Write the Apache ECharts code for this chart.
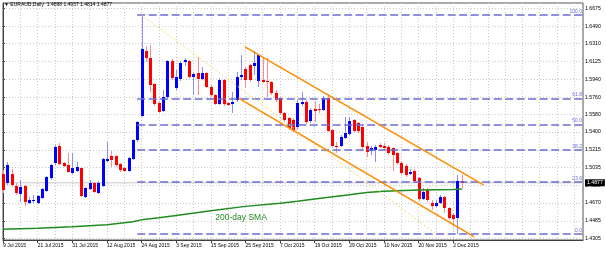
<!DOCTYPE html>
<html><head><meta charset="utf-8">
<script src="https://cdn.jsdelivr.net/npm/echarts@6/dist/echarts.min.js"></script>
<style>html,body{margin:0;padding:0;background:#fff}#c{width:606px;height:255px}</style>
</head><body><div id="c"></div>
<script>
// ---------------- data ----------------
const titleText = 'EURAUD,Daily  1.4898 1.4957 1.4814 1.4877';
const dates = [
 '9 Jul 2015','10 Jul 2015','13 Jul 2015','14 Jul 2015','15 Jul 2015','16 Jul 2015','17 Jul 2015','20 Jul 2015','21 Jul 2015','22 Jul 2015',
 '23 Jul 2015','24 Jul 2015','27 Jul 2015','28 Jul 2015','29 Jul 2015','30 Jul 2015','31 Jul 2015',
 '3 Aug 2015','4 Aug 2015','5 Aug 2015','6 Aug 2015','7 Aug 2015','10 Aug 2015','11 Aug 2015','12 Aug 2015','13 Aug 2015','14 Aug 2015',
 '17 Aug 2015','18 Aug 2015','19 Aug 2015','20 Aug 2015','21 Aug 2015','24 Aug 2015','25 Aug 2015','26 Aug 2015','27 Aug 2015','28 Aug 2015','31 Aug 2015',
 '1 Sep 2015','2 Sep 2015','3 Sep 2015','4 Sep 2015','7 Sep 2015','8 Sep 2015','9 Sep 2015','10 Sep 2015','11 Sep 2015','14 Sep 2015','15 Sep 2015',
 '16 Sep 2015','17 Sep 2015','18 Sep 2015','21 Sep 2015','22 Sep 2015','23 Sep 2015','24 Sep 2015','25 Sep 2015','28 Sep 2015','29 Sep 2015','30 Sep 2015',
 '1 Oct 2015','2 Oct 2015','5 Oct 2015','6 Oct 2015','7 Oct 2015','8 Oct 2015','9 Oct 2015','12 Oct 2015','13 Oct 2015','14 Oct 2015','15 Oct 2015',
 '16 Oct 2015','19 Oct 2015','20 Oct 2015','21 Oct 2015','22 Oct 2015','23 Oct 2015','26 Oct 2015','27 Oct 2015','28 Oct 2015','29 Oct 2015','30 Oct 2015',
 '2 Nov 2015','3 Nov 2015','4 Nov 2015','5 Nov 2015','6 Nov 2015','9 Nov 2015','10 Nov 2015','11 Nov 2015','12 Nov 2015','13 Nov 2015','16 Nov 2015',
 '17 Nov 2015','18 Nov 2015','19 Nov 2015','20 Nov 2015','23 Nov 2015','24 Nov 2015','25 Nov 2015','26 Nov 2015','27 Nov 2015','30 Nov 2015',
 '1 Dec 2015','2 Dec 2015','3 Dec 2015','4 Dec 2015'
];
// [open, close, low, high]
const ohlc = [
 [1.4969,1.4804,1.4773,1.5010],[1.4876,1.5061,1.4855,1.5092],[1.4969,1.4855,1.4835,1.5020],[1.4845,1.4773,1.4752,1.4876],
 [1.4763,1.4835,1.4680,1.4907],[1.4845,1.4680,1.4639,1.4855],[1.4670,1.4701,1.4660,1.4732],[1.4691,1.4701,1.4670,1.4752],
 [1.4670,1.4742,1.4660,1.4752],[1.4722,1.4814,1.4711,1.4825],[1.4794,1.4938,1.4783,1.4948],[1.4928,1.5061,1.4907,1.5071],
 [1.5082,1.5247,1.5061,1.5267],[1.5257,1.5071,1.5061,1.5288],[1.5082,1.5051,1.5041,1.5092],[1.5061,1.4989,1.4979,1.5185],
 [1.4979,1.5031,1.4969,1.5185],[1.5000,1.5041,1.4989,1.5092],[1.5031,1.4742,1.4732,1.5041],[1.4732,1.4825,1.4722,1.4835],
 [1.4814,1.4876,1.4804,1.4907],[1.4876,1.4783,1.4773,1.4886],[1.4773,1.4876,1.4763,1.4897],[1.4845,1.5123,1.4835,1.5134],
 [1.5103,1.5123,1.5092,1.5298],[1.5154,1.5113,1.5041,1.5206],[1.5154,1.5061,1.5041,1.5164],[1.5072,1.5010,1.4989,1.5082],
 [1.5031,1.5000,1.4989,1.5041],[1.5000,1.5134,1.4989,1.5144],[1.5123,1.5319,1.5113,1.5329],[1.5319,1.5504,1.5298,1.5515],
 [1.5566,1.6256,1.5556,1.6607],[1.6236,1.6164,1.6122,1.6287],[1.6164,1.5885,1.5813,1.6298],[1.5896,1.5690,1.5669,1.5906],
 [1.5700,1.5607,1.5597,1.5721],[1.5618,1.5762,1.5607,1.5834],[1.5762,1.6133,1.5752,1.6143],[1.6133,1.5958,1.5937,1.6154],
 [1.5855,1.5968,1.5834,1.6040],[1.5947,1.6112,1.5927,1.6133],[1.6122,1.6143,1.6081,1.6164],[1.6133,1.5968,1.5958,1.6143],
 [1.5968,1.5999,1.5782,1.6009],[1.6009,1.5947,1.5782,1.6174],[1.5947,1.6009,1.5937,1.6071],[1.6009,1.5865,1.5855,1.6019],
 [1.5865,1.5782,1.5762,1.5885],[1.5782,1.5690,1.5679,1.5793],[1.5690,1.5937,1.5679,1.5958],[1.5937,1.5690,1.5669,1.5947],
 [1.5700,1.5679,1.5669,1.5710],[1.5690,1.5710,1.5597,1.5813],[1.5731,1.5968,1.5710,1.6019],[1.5968,1.5988,1.5937,1.6195],
 [1.6050,1.5937,1.5855,1.6071],[1.6091,1.5937,1.5916,1.6102],[1.6081,1.6112,1.5988,1.6236],[1.5927,1.6195,1.5865,1.6205],
 [1.5937,1.5916,1.5906,1.6164],[1.5927,1.5916,1.5762,1.6164],[1.5916,1.5803,1.5782,1.5927],[1.5803,1.5731,1.5710,1.5834],
 [1.5752,1.5597,1.5576,1.5762],[1.5597,1.5525,1.5504,1.5607],[1.5546,1.5443,1.5422,1.5556],[1.5525,1.5422,1.5401,1.5546],
 [1.5453,1.5700,1.5432,1.5731],[1.5690,1.5710,1.5669,1.5813],[1.5710,1.5504,1.5484,1.5731],[1.5515,1.5628,1.5494,1.5649],
 [1.5638,1.5618,1.5504,1.5721],[1.5638,1.5628,1.5597,1.5690],[1.5628,1.5752,1.5618,1.5772],[1.5752,1.5412,1.5401,1.5793],
 [1.5422,1.5257,1.5247,1.5432],[1.5257,1.5247,1.5185,1.5298],[1.5257,1.5350,1.5247,1.5370],[1.5340,1.5391,1.5329,1.5556],
 [1.5381,1.5515,1.5370,1.5556],[1.5525,1.5412,1.5391,1.5535],[1.5494,1.5412,1.5391,1.5504],[1.5453,1.5247,1.5216,1.5474],
 [1.5257,1.5195,1.5144,1.5298],[1.5206,1.5236,1.5164,1.5257],[1.5216,1.5247,1.5092,1.5267],[1.5267,1.5247,1.5236,1.5288],
 [1.5257,1.5236,1.5216,1.5288],[1.5247,1.5185,1.5164,1.5267],[1.5236,1.5164,1.5000,1.5247],[1.5185,1.5082,1.5061,1.5195],
 [1.5082,1.4979,1.4959,1.5103],[1.5051,1.4959,1.4938,1.5072],[1.4969,1.4989,1.4959,1.5020],[1.5000,1.4897,1.4876,1.5020],
 [1.4928,1.4711,1.4691,1.4938],[1.4711,1.4783,1.4701,1.4825],[1.4804,1.4701,1.4680,1.4825],[1.4670,1.4639,1.4598,1.4701],
 [1.4639,1.4670,1.4629,1.4701],[1.4670,1.4732,1.4660,1.4752],[1.4732,1.4618,1.4567,1.4742],[1.4618,1.4515,1.4495,1.4629],
 [1.4546,1.4505,1.4423,1.4567],[1.4515,1.4898,1.4351,1.4958],[1.4898,1.4877,1.4814,1.4957]
];
// 200-day SMA read at bar indices [barIndex, price]
const sma200 = [[0,1.4397],[8,1.4408],[16,1.4423],[24,1.4444],[30,1.4475],[32,1.4495],[36,1.4516],[40,1.4541],
 [48,1.4588],[56,1.4634],[64,1.4665],[68,1.4686],[72,1.4711],[80,1.4753],[84,1.4778],[88,1.4791],[96,1.4802],[104,1.4809],[106,1.4812]];
const smaLabel = '200-day SMA';
const smaLabelAnchor = [55, 1.4516];
const yTickLabels = ['1.6675','1.6490','1.6310','1.6125','1.5940','1.5760','1.5580','1.5400','1.5215','1.5035','1.4850','1.4670','1.4485','1.4305'];
const lastPrice = 1.4877;
const fibHigh = 1.6607, fibLow = 1.4351;
const fibRatios = [100.0, 61.8, 50.0, 38.2, 23.6, 0.0];
const fibStartBar = 31;
const fibTrend = [[32, 1.6607], [100, 1.4351]];
const upperChannel = [[55.9, 1.6277], [111, 1.4856]];
const lowerChannel = [[54.4, 1.5749], [108.9, 1.4320]];
const slotCount = 135;           // bar slots across the chart (incl. empty right margin)
const labelEvery = 8, gridEvery = 4;

// ---------------- chart ----------------
const FONT = 'Liberation Sans';
const UP = '#0000ff', DN = '#ff0000', UPW = '#8c8cff', DNW = '#ff8c8c';
const FIB = '#6c6cd4', ORANGE = '#ff8c00', GREEN = '#1e8c1e';
const labelIdx = dates.map((d, i) => i).filter(i => i % labelEvery === 0);
const gridIdx = [];
for (let k = 0; k < slotCount; k += gridEvery) gridIdx.push(k);
const yTicks = yTickLabels.map(Number);

function renderCandle(params, api) {
  const i = api.value(0), o = api.value(1), c = api.value(2), l = api.value(3), h = api.value(4);
  const pO = api.coord([i, o]), pC = api.coord([i, c]), pL = api.coord([i, l]), pH = api.coord([i, h]);
  const x = Math.round(pO[0]);
  const up = c >= o;
  const top = Math.round(Math.min(pO[1], pC[1])), bot = Math.round(Math.max(pO[1], pC[1]));
  return {
    type: 'group',
    children: [
      { type: 'line', shape: { x1: x + 0.5, y1: Math.round(pH[1]), x2: x + 0.5, y2: Math.round(pL[1]) },
        style: { stroke: up ? UPW : DNW, lineWidth: 1 } },
      { type: 'rect', shape: { x: x - 1, y: top, width: 3, height: Math.max(1, bot - top) },
        style: { fill: up ? UP : DN } }
    ]
  };
}

const fibLevel = r => fibLow + (fibHigh - fibLow) * r / 100;

const option = {
  animation: false,
  title: { text: '\u25BC ' + titleText, left: 4, top: 2, padding: 0,
    textStyle: { fontSize: 5, fontWeight: 'normal', color: '#000', fontFamily: FONT } },
  grid: { left: 3, right: 23, top: 3, bottom: 15, show: true, borderColor: '#555', borderWidth: 1 },
  xAxis: [
    { type: 'value', min: 0, max: slotCount - 1, position: 'bottom',
      axisLine: { show: true, lineStyle: { color: '#404040' } },
      axisTick: { show: true, customValues: labelIdx, length: 3, lineStyle: { color: '#404040' } },
      axisLabel: { customValues: labelIdx, formatter: v => dates[v] || '', align: 'left', fontSize: 5,
        color: '#000', margin: 3, fontFamily: FONT },
      splitLine: { show: false } },
    { type: 'value', min: 0, max: slotCount - 1, position: 'bottom',
      axisLine: { show: false }, axisTick: { show: false, customValues: gridIdx }, axisLabel: { show: false },
      splitLine: { show: true, lineStyle: { color: '#c8c8c8', type: [1, 2], width: 1 } } }
  ],
  yAxis: { type: 'value', position: 'right', min: 1.42875, max: 1.67296,
    axisLine: { show: true, lineStyle: { color: '#404040' } },
    axisTick: { show: true, customValues: yTicks, length: 2, lineStyle: { color: '#404040' } },
    axisLabel: { customValues: yTicks, formatter: v => v.toFixed(4), fontSize: 5.2, color: '#000', margin: 2, fontFamily: FONT },
    splitLine: { show: true, lineStyle: { color: '#c8c8c8', type: [1, 2], width: 1 } } },
  series: [
    { type: 'line', name: 'bid', z: 1, symbol: 'none', silent: true,
      data: [[0, lastPrice], [slotCount - 1, lastPrice]],
      lineStyle: { color: '#c8c8c8', width: 1 },
      endLabel: { show: true, formatter: lastPrice.toFixed(4), distance: 2, backgroundColor: '#000', color: '#fff',
        fontSize: 5.2, padding: [1, 2, 1, 2], fontFamily: FONT },
      markLine: { symbol: 'none', silent: true, animation: false,
        lineStyle: { color: FIB, width: 1.5, type: [8, 3.5] },
        label: { show: true, position: 'insideEndTop', formatter: '{b}', color: FIB, fontSize: 5, distance: 1, fontFamily: FONT },
        data: fibRatios.map(r => [
          { coord: [fibStartBar, fibLevel(r)], name: r.toFixed(1) },
          { coord: [slotCount - 1, fibLevel(r)] }
        ]) } },
    { type: 'custom', name: 'EURAUD', z: 3, renderItem: renderCandle,
      encode: { x: 0, y: [1, 2, 3, 4] },
      data: ohlc.map((d, i) => [i, d[0], d[1], d[2], d[3]]) },
    { type: 'line', name: '200 SMA', z: 4, symbol: 'none', data: sma200,
      lineStyle: { color: GREEN, width: 1.5 },
      markPoint: { symbol: 'circle', symbolSize: 0, silent: true, animation: false,
        label: { show: true, position: 'inside', formatter: smaLabel, color: GREEN, fontSize: 8.5, fontFamily: FONT },
        data: [{ coord: smaLabelAnchor }] } },
    { type: 'line', name: 'fibTrend', z: 5, symbol: 'none', data: fibTrend,
      lineStyle: { color: '#f7d96a', width: 1, type: [2, 2] } },
    { type: 'line', name: 'upper', z: 6, symbol: 'none', data: upperChannel,
      lineStyle: { color: ORANGE, width: 1.6 } },
    { type: 'line', name: 'lower', z: 6, symbol: 'none', data: lowerChannel,
      lineStyle: { color: ORANGE, width: 1.6 } }
  ]
};
const chart = echarts.init(document.getElementById('c'));
chart.setOption(option);
</script>
</body></html>
